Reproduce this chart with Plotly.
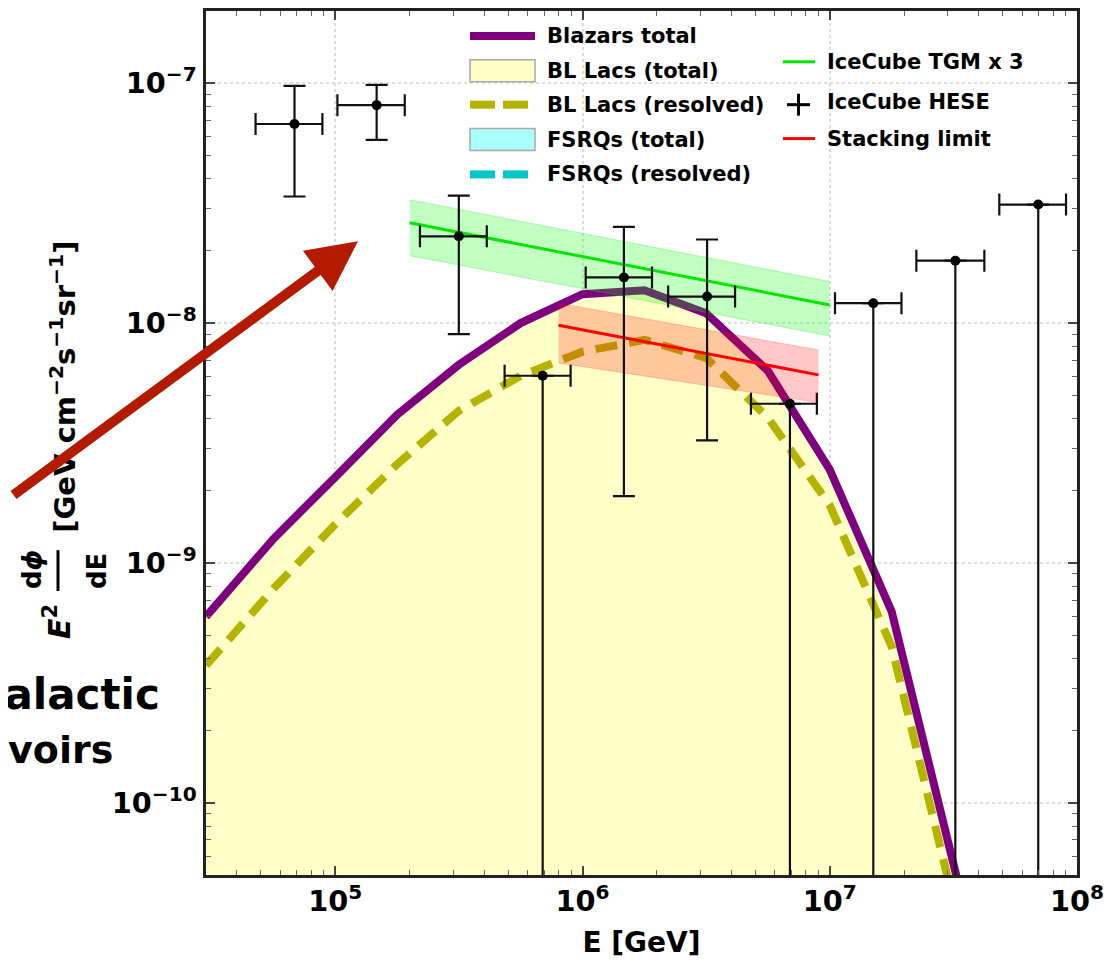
import math
import plotly.graph_objects as go

# ---------------- data ----------------
energy_grid = [3.0e4, 5.62e4, 1.0e5, 1.78e5, 3.16e5, 5.62e5, 1.0e6, 1.78e6,
               3.16e6, 5.62e6, 1.0e7, 1.78e7, 3.16e7, 5.62e7]
blazars_total = [5.97e-10, 1.26e-9, 2.28e-9, 4.15e-9, 6.70e-9, 1.0e-8, 1.32e-8,
                 1.37e-8, 1.10e-8, 6.32e-9, 2.45e-9, 6.27e-10, 5.6e-11, 5e-12]
bllacs_total = [5.95e-10, 1.25e-9, 2.27e-9, 4.13e-9, 6.67e-9, 9.95e-9, 1.31e-8,
                1.36e-8, 1.09e-8, 6.28e-9, 2.43e-9, 6.2e-10, 5.5e-11, 5e-12]
bllacs_resolved = [3.74e-10, 7.8e-10, 1.45e-9, 2.58e-9, 4.31e-9, 6.03e-9, 7.6e-9,
                   8.51e-9, 7.16e-9, 4.03e-9, 1.74e-9, 4.48e-10, 3.9e-11, 3e-12]

tgm_energy = [2.0e5, 1.0e7]
tgm_flux = [2.62e-8, 1.19e-8]
tgm_upper = [3.27e-8, 1.49e-8]
tgm_lower = [1.91e-8, 8.83e-9]

stack_energy = [8.0e5, 9.0e6]
stack_flux = [9.8e-9, 6.08e-9]
stack_upper = [1.21e-8, 7.73e-9]
stack_lower = [6.82e-9, 4.66e-9]

hese_energy = [6.84e4, 1.47e5, 3.16e5, 6.9e5, 1.47e6, 3.19e6, 6.9e6, 1.5e7, 3.22e7, 6.97e7]
hese_energy_lo = [4.76e4, 1.02e5, 2.2e5, 4.84e5, 1.03e6, 2.22e6, 4.8e6, 1.05e7, 2.24e7, 4.85e7]
hese_energy_hi = [8.87e4, 1.91e5, 4.1e5, 8.95e5, 1.91e6, 4.14e6, 8.87e6, 1.95e7, 4.22e7, 9.03e7]
hese_flux = [6.76e-8, 8.1e-8, 2.3e-8, 6.03e-9, 1.55e-8, 1.29e-8, 4.61e-9, 1.21e-8, 1.82e-8, 3.12e-8]
hese_flux_hi = [9.75e-8, 9.84e-8, 3.4e-8, 6.03e-9, 2.52e-8, 2.23e-8, 4.61e-9, 1.21e-8, 1.82e-8, 3.12e-8]
hese_flux_lo = [3.37e-8, 5.8e-8, 9.0e-9, 0.0, 1.9e-9, 3.24e-9, 0.0, 0.0, 0.0, 0.0]

x_range = [3.0e4, 1.0e8]
y_range = [5.0e-11, 2.0e-7]

legend_left = ["Blazars total", "BL Lacs (total)", "BL Lacs (resolved)",
               "FSRQs (total)", "FSRQs (resolved)"]
legend_right = ["IceCube TGM x 3", "IceCube HESE", "Stacking limit"]

# ---------------- layout geometry (screen pixels) ----------------
SCREEN_W, SCREEN_H = 1117, 969
OFF = 8                            # page body margin
W, H = SCREEN_W - OFF, SCREEN_H - OFF
L, R, T, B = 206, 1077, 8, 875     # plot frame in screen pixels


def px(x):
    return (x - L) / (R - L)


def py(y):
    return (B - y) / (B - T)


FONT = "DejaVu Sans"
PURPLE = "#7F007F"
OLIVE = "#B4B400"
YELLOW = "rgb(255,255,200)"
CYAN_FILL = "rgb(170,255,255)"
CYAN = "#00C8C8"
GREEN = "#00E600"
RED = "#FF0000"

fig = go.Figure()

# BL Lacs total (yellow filled area)
fig.add_trace(go.Scatter(x=energy_grid, y=bllacs_total, mode="lines",
                         line=dict(width=0, color=YELLOW), fill="tozeroy",
                         fillcolor=YELLOW, hoverinfo="skip"))
# Blazars total
fig.add_trace(go.Scatter(x=energy_grid, y=blazars_total, mode="lines",
                         line=dict(width=8, color=PURPLE)))
# BL Lacs resolved
fig.add_trace(go.Scatter(x=energy_grid, y=bllacs_resolved, mode="lines",
                         line=dict(width=8, color=OLIVE, dash="22px,12px")))

# IceCube TGM x 3 band + line
fig.add_trace(go.Scatter(x=tgm_energy, y=tgm_upper, mode="lines",
                         line=dict(width=1, color="rgba(0,230,0,0.25)")))
fig.add_trace(go.Scatter(x=tgm_energy, y=tgm_lower, mode="lines",
                         line=dict(width=1, color="rgba(0,230,0,0.25)"),
                         fill="tonexty", fillcolor="rgba(0,255,0,0.24)"))
fig.add_trace(go.Scatter(x=tgm_energy, y=tgm_flux, mode="lines",
                         line=dict(width=3, color=GREEN)))

# Stacking limit band + line
fig.add_trace(go.Scatter(x=stack_energy, y=stack_upper, mode="lines",
                         line=dict(width=1, color="rgba(255,0,0,0.2)")))
fig.add_trace(go.Scatter(x=stack_energy, y=stack_lower, mode="lines",
                         line=dict(width=1, color="rgba(255,0,0,0.2)"),
                         fill="tonexty", fillcolor="rgba(255,0,0,0.22)"))
fig.add_trace(go.Scatter(x=stack_energy, y=stack_flux, mode="lines",
                         line=dict(width=3, color=RED)))

# IceCube HESE data points
fig.add_trace(go.Scatter(
    x=hese_energy, y=hese_flux, mode="markers",
    marker=dict(size=10, color="black"),
    error_x=dict(type="data", symmetric=False,
                 array=[h - e for h, e in zip(hese_energy_hi, hese_energy)],
                 arrayminus=[e - l for e, l in zip(hese_energy, hese_energy_lo)],
                 color="#111111", thickness=2.2, width=11),
    error_y=dict(type="data", symmetric=False,
                 array=[h - f for h, f in zip(hese_flux_hi, hese_flux)],
                 arrayminus=[f - l for f, l in zip(hese_flux, hese_flux_lo)],
                 color="#111111", thickness=2.2, width=11),
))

axis_common = dict(
    type="log", showline=True, linecolor="#222222", linewidth=2.5, mirror="ticks",
    ticks="inside", ticklen=9, tickwidth=1.5, tickcolor="#444444",
    tickmode="linear", tick0=0, dtick=1, exponentformat="power",
    showgrid=True, gridcolor="#DCDCDC", griddash="dot", gridwidth=1.5,
    zeroline=False,
    tickfont=dict(family=FONT, size=23, color="black", weight="bold"),
    minor=dict(ticks="inside", ticklen=5, tickwidth=1, tickcolor="#666666",
               dtick="D1", showgrid=False),
)

fig.update_xaxes(**axis_common, range=[math.log10(x_range[0]), math.log10(x_range[1])],
                 title=dict(text="E [GeV]", standoff=16,
                            font=dict(family=FONT, size=28, color="black", weight="bold")))
fig.update_yaxes(**axis_common, range=[math.log10(y_range[0]), math.log10(y_range[1])],
                 ticklabelstandoff=2)

shapes = []
annotations = []


def line_shape(x0, y0, x1, y1, color, width):
    shapes.append(dict(type="line", xref="paper", yref="paper",
                       x0=px(x0), y0=py(y0), x1=px(x1), y1=py(y1),
                       line=dict(color=color, width=width), layer="above"))


def rect_shape(x0, y0, x1, y1, fill):
    shapes.append(dict(type="rect", xref="paper", yref="paper",
                       x0=px(x0), y0=py(y0), x1=px(x1), y1=py(y1),
                       fillcolor=fill, line=dict(color="#A8A8A8", width=1.5),
                       layer="above"))


def text(x, y, s, size, anchor="left", angle=0, yanchor="middle"):
    annotations.append(dict(xref="paper", yref="paper", x=px(x), y=py(y), text=s,
                            showarrow=False, xanchor=anchor, yanchor=yanchor,
                            textangle=angle,
                            font=dict(family=FONT, size=size, color="black")))


# ----- custom legend, left column -----
rows1 = [33, 68, 102, 137, 172]
line_shape(470, rows1[0], 535, rows1[0], PURPLE, 8)
rect_shape(470, rows1[1] - 11, 535, rows1[1] + 11, YELLOW)
line_shape(470, rows1[2], 495, rows1[2], OLIVE, 8)
line_shape(503, rows1[2], 528, rows1[2], OLIVE, 8)
rect_shape(470, rows1[3] - 11, 535, rows1[3] + 11, CYAN_FILL)
line_shape(470, rows1[4], 495, rows1[4], CYAN, 8)
line_shape(503, rows1[4], 528, rows1[4], CYAN, 8)
for r, lab in zip(rows1, legend_left):
    text(545, r, "<b>%s</b>" % lab, 21)

# ----- custom legend, right column -----
rows2 = [59, 99, 136]
line_shape(783, rows2[0], 815, rows2[0], GREEN, 3)
line_shape(787, rows2[1] + 3, 810, rows2[1] + 3, "black", 3)
line_shape(798.5, rows2[1] - 8, 798.5, rows2[1] + 14, "black", 3)
line_shape(783, rows2[2], 815, rows2[2], RED, 3)
for r, lab in zip(rows2, legend_right):
    text(825, r, "<b>%s</b>" % lab, 21)

# ----- y-axis title built from pieces (fraction) -----
text(63, 385, "<b>[GeV cm<sup>−2</sup>s<sup>−1</sup>sr<sup>−1</sup>]</b>", 29,
     anchor="center", angle=-90)
text(58, 621, "<b><i>E</i><sup>2</sup></b>", 30, anchor="center", angle=-90)
text(32, 569, "<b>d<i>ϕ</i></b>", 26, anchor="center", angle=-90)
text(97, 570, "<b>dE</b>", 26, anchor="center", angle=-90)
line_shape(58, 549, 58, 590, "black", 3)

# ----- slide decorations -----
text(162, 694, "<b>Galactic</b>", 42, anchor="right")
text(115, 750, "<b>voirs</b>", 38, anchor="right")
annotations.append(dict(xref="paper", yref="paper", x=px(358), y=py(239), text="",
                        showarrow=True, ax=-346, ay=255, axref="pixel", ayref="pixel",
                        arrowhead=2, arrowsize=1, arrowwidth=10,
                        arrowcolor="#B41A00", standoff=0))

fig.update_layout(
    width=W, height=H, showlegend=False,
    margin=dict(l=L - OFF, r=W - (R - OFF), t=T - OFF, b=H - (B - OFF), pad=0),
    paper_bgcolor="white", plot_bgcolor="white",
    font=dict(family=FONT, color="black"),
    shapes=shapes, annotations=annotations,
)

fig.write_html("out.html")
